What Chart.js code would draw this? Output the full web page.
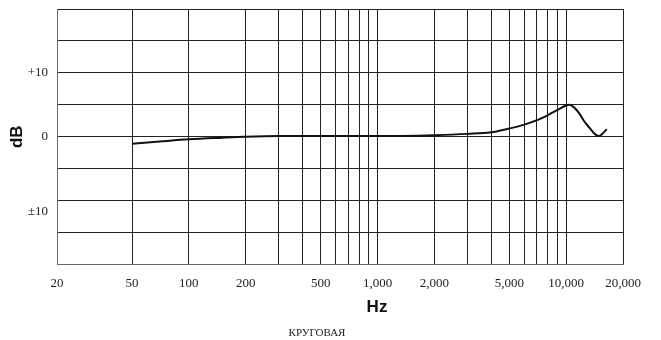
<!DOCTYPE html>
<html>
<head>
<meta charset="utf-8">
<script src="https://cdn.jsdelivr.net/npm/chart.js@4"></script>
<style>
  body { margin: 0; background: #fff; }
  #wrap { width: 661px; height: 340px; }
</style>
</head>
<body>
<div id="wrap"><canvas id="chartFreq"></canvas></div>
<script>
// ===== FREQUENCY RESPONSE =====
const freqHz  = [50, 70, 100, 150, 200, 300, 500, 1000, 2000, 3000, 4000, 5000, 6000, 7000, 8000, 9000, 10000, 10400, 11000, 11700, 12400, 13200, 14000, 14900, 15600, 16400];
const levelDb = [-1.1, -0.75, -0.4, -0.15, 0, 0.1, 0.1, 0.1, 0.25, 0.45, 0.7, 1.3, 1.9, 2.6, 3.4, 4.2, 4.9, 5.0, 4.6, 3.7, 2.5, 1.5, 0.6, 0.1, 0.5, 1.2];

const xGrid = [20, 50, 100, 200, 300, 400, 500, 600, 700, 800, 900, 1000, 2000, 3000, 4000, 5000, 6000, 7000, 8000, 9000, 10000, 20000];
const xLabels = { 20: '20', 50: '50', 100: '100', 200: '200', 500: '500', 1000: '1,000', 2000: '2,000', 5000: '5,000', 10000: '10,000', 20000: '20,000' };
const yGrid = [-20, -15, -10, -5, 0, 5, 10, 15, 20];
const yLabels = { 10: '+10', 0: '0', '-11.75': '±10' };

const yTitle = 'dB';
const xTitle = 'Hz';
const caption = 'КРУГОВАЯ';

// captions under the axis (drawn on canvas, offset from the chart area)
const captionPlugin = {
  id: 'captions',
  afterDraw(chart) {
    const { ctx, chartArea } = chart;
    ctx.save();
    ctx.textAlign = 'center';
    ctx.textBaseline = 'middle';
    ctx.fillStyle = '#111';
    ctx.font = 'bold 17px "Liberation Sans"';
    ctx.fillText(xTitle, chartArea.left + 320, chartArea.bottom + 43);
    ctx.fillStyle = '#222';
    ctx.font = '11px "Liberation Serif"';
    ctx.fillText(caption, chartArea.left + 260, chartArea.bottom + 69);
    ctx.restore();
  }
};

new Chart(document.getElementById('chartFreq'), {
  type: 'line',
  data: {
    datasets: [{
      data: freqHz.map((f, i) => ({ x: f, y: levelDb[i] })),
      borderColor: '#111',
      borderWidth: 2,
      pointRadius: 0,
      cubicInterpolationMode: 'monotone',
      fill: false
    }]
  },
  options: {
    responsive: true,
    maintainAspectRatio: false,
    animation: false,
    layout: { padding: { top: 9, right: 38, bottom: 0, left: 0 } },
    plugins: { legend: { display: false }, tooltip: { enabled: false } },
    scales: {
      x: {
        type: 'logarithmic',
        min: 20, max: 20000,
        afterBuildTicks: s => { s.ticks = xGrid.map(v => ({ value: v })); },
        afterFit: s => { s.height = 75.5; },
        grid: { color: '#222', drawTicks: false },
        border: { color: '#666' },
        ticks: {
          autoSkip: false, maxRotation: 0, padding: 11, color: '#222',
          font: { family: 'Liberation Serif', size: 13 },
          callback: v => xLabels[v] || ''
        }
      },
      y: {
        min: -20, max: 20,
        afterBuildTicks: s => { s.ticks = [...yGrid, -11.75].sort((a, b) => a - b).map(v => ({ value: v })); },
        afterFit: s => { s.width = 57; s.paddingTop = 0; s.paddingBottom = 0; },
        grid: { color: c => yGrid.includes(c.tick.value) ? '#222' : 'rgba(0,0,0,0)', drawTicks: false },
        border: { color: '#666' },
        title: { display: true, text: yTitle, color: '#111', padding: { top: 7, bottom: 0 }, font: { family: 'Liberation Sans', size: 17, weight: 'bold' } },
        ticks: {
          autoSkip: false, padding: 9, color: '#222',
          font: { family: 'Liberation Serif', size: 13 },
          callback: v => yLabels[v] || ''
        }
      }
    }
  },
  plugins: [captionPlugin]
});
</script>
</body>
</html>
